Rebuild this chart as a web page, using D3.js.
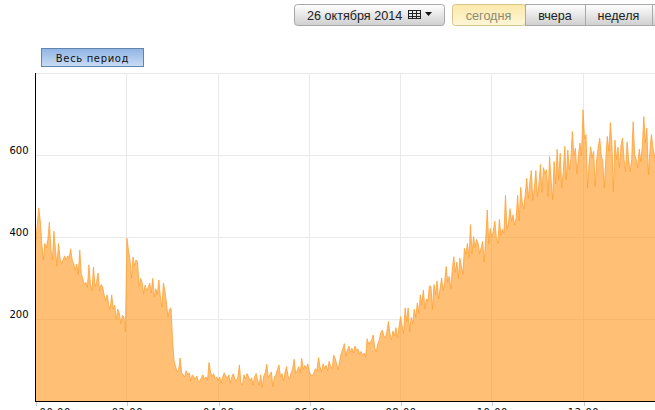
<!DOCTYPE html>
<html><head><meta charset="utf-8">
<script src="https://cdn.jsdelivr.net/npm/d3@7"></script>
<style>
html,body{margin:0;padding:0;background:#fff;overflow:hidden}
svg{display:block}
</style></head><body>
<svg id="c" width="655" height="410"></svg>
<script>
// Visitors every two minutes
const hour00_02=[385,430,472,440,385,345,385,375,395,437,370,345,415,370,330,385,350,335,345,355,345,355,350,372,345,335,320,335,310,369,310,300,285,290,278,333,285,270,328,280,290,313,270,285,280,260,245,260,235,225,260,225,235,200,225,215,190,210,206,170];
const hour02_04=[398,370,345,300,352,330,345,340,280,300,290,262,284,270,278,289,265,300,255,275,260,296,255,230,289,270,240,206,225,228,150,100,85,72,78,106,70,65,60,75,65,70,50,65,60,55,62,48,50,58,65,55,60,52,95,72,60,68,55,60];
const hour04_06=[52,60,45,60,70,62,55,65,45,60,68,55,50,60,89,45,40,65,55,68,60,50,58,40,60,68,52,40,65,35,62,70,91,58,65,72,36,60,65,78,89,60,68,50,72,85,62,55,70,80,103,68,75,85,70,105,78,88,80,92];
const hour06_08=[72,65,62,70,80,75,107,85,72,92,80,88,75,98,85,80,113,105,90,78,100,118,128,141,110,125,135,120,130,118,135,125,128,115,122,112,118,108,153,140,145,150,162,130,122,140,150,168,174,160,155,170,195,165,150,172,160,180,155,182];
const hour08_10=[207,185,165,228,195,228,170,205,190,225,205,240,215,260,235,272,225,250,245,282,280,225,285,260,294,250,275,301,270,290,329,290,305,275,320,353,315,340,300,349,330,310,373,360,385,350,431,360,402,375,395,385,360,375,390,340,395,467,385,422];
const hour10_12=[400,415,440,400,385,444,405,420,410,502,420,435,470,440,455,430,445,503,440,522,486,470,505,544,495,533,563,490,520,563,500,530,578,510,570,555,565,500,597,540,492,585,530,615,540,605,520,560,622,540,613,565,590,658,600,617,555,600,630,600];
const hour12_14=[711,640,650,520,580,621,595,610,524,590,620,642,600,585,520,590,646,610,680,630,512,637,590,620,570,625,642,590,560,633,590,560,590,682,600,590,570,615,585,620,695,630,666,552,610,651,620,601,570];
const visitors=[].concat(hour00_02,hour02_04,hour04_06,hour06_08,hour08_10,hour10_12,hour12_14);
const stepMinutes=2;
const xTickMinutes=[0,120,240,360,480,600,720];
const xTickLabels=["00:00","02:00","04:00","06:00","08:00","10:00","12:00"];
const yTicks=[200,400,600];
const dateText="26 октября 2014";
const tabLabels=["сегодня","вчера","неделя"];
const periodText="Весь период";

const svg=d3.select("#c");
const x=d3.scaleLinear().domain([0,720]).range([35.7,583]);
const y=d3.scaleLinear().domain([0,800]).range([401.5,73.3]);
const plotTop=72.5,plotBottom=401.5,plotLeft=35.5,plotRight=655;

const defs=svg.append("defs");
function grad(id,stops){
  const g=defs.append("linearGradient").attr("id",id).attr("x1",0).attr("y1",0).attr("x2",0).attr("y2",1);
  stops.forEach(s=>g.append("stop").attr("offset",s[0]).attr("stop-color",s[1]));
}
grad("gBtn",[[0,"#ffffff"],[1,"#cfcfcf"]]);
grad("gAct",[[0,"#fbe9a8"],[1,"#fff6d8"]]);
grad("gBlue",[[0,"#8fb4e4"],[1,"#cadcf5"]]);

// grid
const grid=svg.append("g").attr("stroke","#e9e9e9").attr("fill","none").attr("shape-rendering","crispEdges");
grid.selectAll("line.h").data([800].concat(yTicks)).enter().append("line").attr("class","h")
  .attr("x1",plotLeft).attr("x2",plotRight).attr("y1",d=>Math.round(y(d))+0.5).attr("y2",d=>Math.round(y(d))+0.5);
grid.selectAll("line.v").data(xTickMinutes.slice(1)).enter().append("line").attr("class","v")
  .attr("y1",plotTop).attr("y2",plotBottom).attr("x1",d=>Math.floor(x(d))+0.5).attr("x2",d=>Math.floor(x(d))+0.5);

// area
const pts=visitors.map((v,i)=>[i*stepMinutes,v]);
svg.append("path").datum(pts)
  .attr("d",d3.area().x(d=>x(d[0])).y0(y(0)).y1(d=>y(d[1])))
  .attr("fill","#ff9720").attr("fill-opacity",0.62);
svg.append("path").datum(pts)
  .attr("d",d3.line().x(d=>x(d[0])).y(d=>y(d[1])))
  .attr("fill","none").attr("stroke","#ffa033").attr("stroke-width",1).attr("stroke-opacity",0.8);

// axes
const font="'DejaVu Sans',Verdana,sans-serif";
const xAxis=d3.axisBottom(x).tickValues(xTickMinutes).tickFormat((d,i)=>xTickLabels[i]).tickSize(4).tickPadding(3);
const gx=svg.append("g").attr("transform",`translate(0,${plotBottom})`).call(xAxis);
gx.select(".domain").remove();
gx.selectAll("line").attr("stroke","#c3cbd8").attr("shape-rendering","crispEdges")
  .attr("transform",function(d){return `translate(${Math.floor(x(d))+0.5-x(d)},0)`});
gx.selectAll("text").attr("font-family",font).attr("font-size",10).attr("letter-spacing",0.5).attr("fill","#000")
  .attr("dx",d=>d===0?19:0);
svg.append("line").attr("x1",plotLeft-0.5).attr("x2",plotRight).attr("y1",plotBottom).attr("y2",plotBottom)
  .attr("stroke","#000").attr("shape-rendering","crispEdges");
svg.append("line").attr("x1",plotLeft).attr("x2",plotLeft).attr("y1",plotTop).attr("y2",plotBottom)
  .attr("stroke","#000").attr("shape-rendering","crispEdges");
svg.selectAll("text.yl").data(yTicks).enter().append("text").attr("class","yl")
  .attr("x",28.5).attr("y",d=>y(d)-1.5).attr("text-anchor","end")
  .attr("font-family",font).attr("font-size",10).attr("fill","#000").text(d=>d);

// controls
function box(x0,y0,w,h,fill,stroke,r){
  return svg.append("rect").attr("x",x0+0.5).attr("y",y0+0.5).attr("width",w-1).attr("height",h-1)
    .attr("rx",r).attr("fill",fill).attr("stroke",stroke);
}
const sans="'Liberation Sans',Arial,sans-serif";
box(294,4,151,22,"url(#gBtn)","#a8a8a8",3);
svg.append("text").attr("x",307).attr("y",19.5).attr("font-family",sans).attr("font-size",12.6).attr("fill","#222").text(dateText);
// calendar glyph
const cal=svg.append("g").attr("stroke","#222").attr("fill","none").attr("shape-rendering","crispEdges");
[0,4,8,12].forEach(o=>cal.append("line").attr("x1",408.5+o).attr("x2",408.5+o).attr("y1",10).attr("y2",19));
[0,3,6,8].forEach(o=>cal.append("line").attr("x1",408).attr("x2",421).attr("y1",10.5+o).attr("y2",10.5+o));
svg.append("path").attr("d","M425 12h7l-3.5 4z").attr("fill","#111");

const tabEdges=[452,525,585,652,680];
[0,1,2,3].forEach(i=>{
  box(tabEdges[i],4,tabEdges[i+1]-tabEdges[i]+1,22,i==0?"url(#gAct)":"url(#gBtn)",i==0?"#d6c68c":"#a8a8a8",i==0?3:0);
});
tabLabels.forEach((t,i)=>{
  svg.append("text").attr("x",(tabEdges[i]+tabEdges[i+1])/2).attr("y",20).attr("text-anchor","middle")
    .attr("font-family",sans).attr("font-size",12.6).attr("fill",i==0?"#8a8a70":"#222").text(t);
});

box(41,48,103,19,"url(#gBlue)","#5f86ae",0);
svg.append("text").attr("x",92.5).attr("y",62).attr("text-anchor","middle")
  .attr("font-family",font).attr("font-size",10).attr("letter-spacing",0.65).attr("fill","#111").text(periodText);
</script>
</body></html>
